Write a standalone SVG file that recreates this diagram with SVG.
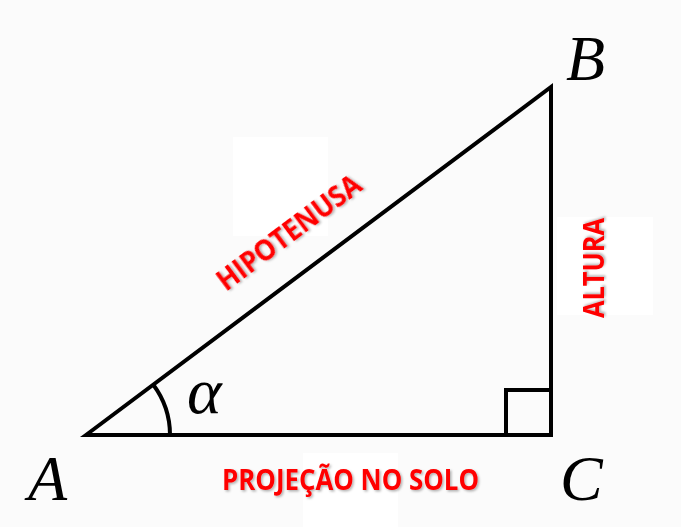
<svg xmlns="http://www.w3.org/2000/svg" width="681" height="527" viewBox="0 0 681 527">
<defs>
<filter id="sh" x="-10%" y="-30%" width="130%" height="160%">
<feDropShadow dx="1.5" dy="1.5" stdDeviation="1.2" flood-color="#000" flood-opacity="0.3"/>
</filter>
</defs>
<style>
.ln{fill:none;stroke:#000;stroke-width:4;stroke-linejoin:miter}
.lbl{font-family:"Open Sans","Liberation Sans",sans-serif;font-weight:bold;fill:#ff0000;filter:url(#sh)}
.v{font-family:"Liberation Serif","DejaVu Serif",serif;font-style:italic;fill:#000}
</style>
<rect width="681" height="527" fill="#fbfbfb"/>
<rect x="233" y="137" width="95" height="99" fill="#fff"/>
<rect x="557" y="217" width="96" height="98" fill="#fff"/>
<rect x="303" y="453" width="95" height="74" fill="#fff"/>
<g id="triangle">
<path class="ln" d="M86,435 L551,87 L551,435 Z"/>
<path class="ln" d="M506,435 V390 H551"/>
<path class="ln" d="M170,435 A84,84 0 0 0 153.3,384.7"/>
</g>
<g id="vertex-A"><text class="v" x="28" y="500" font-size="64">A</text></g>
<g id="vertex-B"><text class="v" x="566" y="80" font-size="64">B</text></g>
<g id="vertex-C"><text class="v" x="560" y="500" font-size="64">C</text></g>
<g id="angle"><text class="v" x="187" y="413" font-size="66">α</text></g>
<g id="label-hipotenusa"><text class="lbl" font-size="29" transform="translate(226,292) rotate(-36.8)" textLength="172" lengthAdjust="spacingAndGlyphs">HIPOTENUSA</text></g>
<g id="label-altura"><text class="lbl" font-size="29" transform="translate(604,318) rotate(-90)" textLength="100" lengthAdjust="spacingAndGlyphs">ALTURA</text></g>
<g id="label-projecao"><text class="lbl" font-size="29" x="222" y="490" textLength="257" lengthAdjust="spacingAndGlyphs">PROJEÇÃO NO SOLO</text></g>
</svg>
